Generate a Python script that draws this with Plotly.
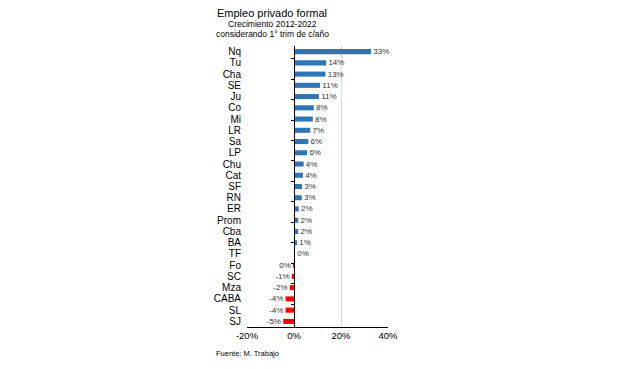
import plotly.graph_objects as go

categories = ["Nq", "Tu", "Cha", "SE", "Ju", "Co", "Mi", "LR", "Sa", "LP", "Chu", "Cat",
              "SF", "RN", "ER", "Prom", "Cba", "BA", "TF", "Fo", "SC", "Mza", "CABA", "SL", "SJ"]
values = [32.8, 13.7, 13.4, 11.1, 10.6, 8.4, 8.0, 6.9, 6.1, 5.6, 4.1, 3.8,
          3.4, 3.3, 2.0, 1.8, 1.8, 1.3, 0.2, -0.3, -0.9, -1.8, -3.6, -3.6, -4.6]
x_ticks = [-20, 0, 20, 40]

NBSP = "\u00a0"
labels = [(NBSP + f"{int(round(v))}%") if v >= 0 else (f"{int(round(v))}%" + NBSP)
          for v in values]
colors = ["#2E75B6" if v >= 0 else "#FF0000" for v in values]
x_ticktext = [f"{v}%" for v in x_ticks]

FONT = "Liberation Sans, Arial, sans-serif"

fig = go.Figure()
fig.add_trace(go.Bar(
    x=values, y=categories, orientation="h",
    marker=dict(color=colors, line=dict(width=0)),
    text=labels, textposition="outside", cliponaxis=False,
    constraintext="none", textangle=0,
    textfont=dict(family=FONT, size=8, color="#333333"),
    hoverinfo="skip", showlegend=False,
))
fig.add_trace(go.Scatter(
    x=[0] * len(categories), y=categories, yaxis="y2", mode="markers",
    marker=dict(opacity=0), hoverinfo="skip", showlegend=False,
))

# page body adds an 8px offset, so the figure is 8px smaller and margins shifted
fig.update_layout(
    width=611, height=361,
    margin=dict(l=239, r=231, t=38, b=42, autoexpand=False),
    paper_bgcolor="white", plot_bgcolor="white",
    bargap=0.55,
    font=dict(family=FONT, color="black"),
    xaxis=dict(
        range=[-20, 40], tickmode="array", tickvals=x_ticks, ticktext=x_ticktext,
        showgrid=True, gridcolor="#d9d9d9", gridwidth=1,
        zeroline=False, showline=True, linecolor="black", linewidth=1,
        ticks="", tickfont=dict(size=9.5, color="black"), automargin=False,
    ),
    yaxis=dict(
        type="category", categoryorder="array", categoryarray=categories,
        tickmode="array", tickvals=categories, ticktext=categories,
        autorange="reversed", showgrid=False, zeroline=False, showline=False,
        ticks="", ticklabelstandoff=5, tickfont=dict(size=10, color="black"),
        automargin=False,
    ),
    yaxis2=dict(
        type="category", categoryorder="array", categoryarray=categories,
        autorange="reversed", overlaying="y", anchor="free", position=1/3,
        side="left", showline=True, linecolor="black", linewidth=1,
        ticks="outside", ticklen=3, tickcolor="black", tickson="boundaries",
        showticklabels=False, showgrid=False, zeroline=False, automargin=False,
    ),
    annotations=[
        dict(text="Empleo privado formal", xref="paper", yref="paper",
             x=0.18, y=1.117, xanchor="center", yanchor="middle", showarrow=False,
             font=dict(size=11, color="black")),
        dict(text="Crecimiento 2012-2022", xref="paper", yref="paper",
             x=0.18, y=1.079, xanchor="center", yanchor="middle", showarrow=False,
             font=dict(size=8.5, color="black")),
        dict(text="considerando 1° trim de c/año", xref="paper", yref="paper",
             x=0.18, y=1.044, xanchor="center", yanchor="middle", showarrow=False,
             font=dict(size=8.5, color="black")),
        dict(text="Fuente: M. Trabajo", xref="paper", yref="paper",
             x=-0.234, y=-0.093, xanchor="left", yanchor="middle", showarrow=False,
             font=dict(size=7.5, color="black")),
    ],
)

fig.write_html("out.html")
